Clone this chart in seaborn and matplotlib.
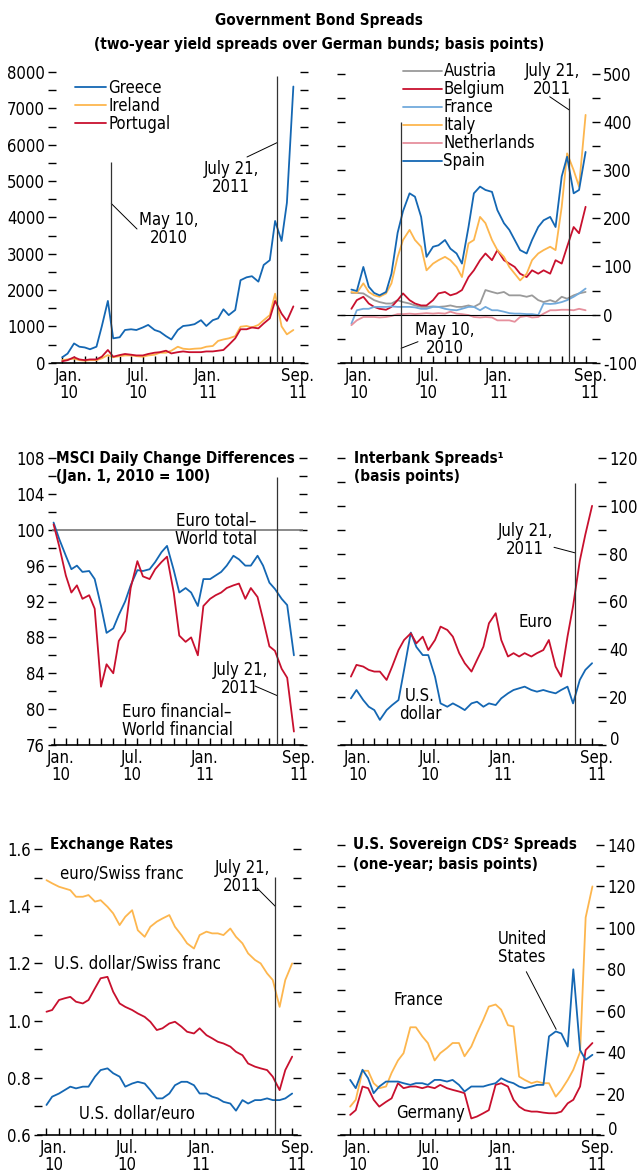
import numpy as np
import pandas as pd
import matplotlib
matplotlib.use("Agg")
import matplotlib.pyplot as plt
import matplotlib.dates as mdates
from matplotlib import font_manager as fm
from matplotlib.transforms import ScaledTranslation
import seaborn as sns
from matplotlib.lines import Line2D

sns.set_theme(style="white")

# pick a condensed face if one is installed, otherwise a plain one at a smaller size
installed = fm.fontManager.ttflist
if any(f.name == "Liberation Sans Narrow" for f in installed):
    plt.rcParams["font.family"] = ["Liberation Sans Narrow", "DejaVu Sans"]
    FS, TFS = 13, 12.5
elif any(f.name == "DejaVu Sans" and "Condensed" in f.fname for f in installed):
    plt.rcParams["font.family"] = ["DejaVu Sans"]
    plt.rcParams["font.stretch"] = "condensed"
    FS, TFS = 12, 11
else:
    plt.rcParams["font.family"] = ["Liberation Sans", "DejaVu Sans"]
    FS, TFS = 11.5, 10.5
plt.rcParams.update({"axes.unicode_minus": False, "text.color": "black",
                     "xtick.color": "black", "ytick.color": "black",
                     "axes.edgecolor": "black"})

# semi-monthly readings, Jan 1 2010 .. Sep 1 2011
dates = pd.date_range("2010-01-01", "2011-09-01", freq="SMS")

# --- Government bond spreads (left) ---
greece = [150, 250, 530, 440, 420, 370, 440, 1000, 1700, 670, 700, 900, 920, 900, 970, 1040, 900, 850, 730, 640,
          900, 1010, 1030, 1060, 1170, 1010, 1170, 1220, 1470, 1310, 1450, 2270, 2350, 2380, 2230, 2690, 2820,
          3900, 3350, 4400, 7600]
ireland = [70, 90, 110, 70, 55, 70, 70, 120, 210, 150, 180, 200, 200, 180, 165, 200, 220, 275, 275, 330,
           440, 385, 370, 385, 395, 440, 460, 600, 640, 670, 730, 990, 1010, 970, 1040, 1170, 1310, 1900, 1000,
           780, 900]
portugal = [40, 70, 150, 90, 70, 90, 90, 165, 350, 165, 210, 240, 220, 200, 200, 240, 275, 290, 330, 255,
            290, 310, 290, 290, 290, 310, 310, 330, 350, 490, 670, 920, 920, 970, 945, 1080, 1220, 1700, 1350,
            1150, 1550]

# --- Government bond spreads (right) ---
austria = [45, 45, 44, 37, 30, 26, 23, 23, 30, 26, 23, 19, 16, 16, 17, 16, 17, 19, 16, 16,
           19, 16, 23, 51, 47, 44, 47, 40, 40, 40, 37, 40, 30, 26, 30, 26, 37, 33, 40, 44, 47]
belgium = [12, 30, 37, 23, 16, 12, 10, 16, 30, 44, 30, 23, 19, 19, 30, 44, 47, 40, 44, 51,
           78, 92, 113, 127, 113, 134, 113, 106, 99, 85, 78, 92, 85, 92, 85, 113, 106, 141, 182, 169, 224]
france_b = [-19, 9, 12, 12, 16, 16, 16, 17, 16, 16, 16, 15, 12, 12, 16, 16, 12, 10, 9, 12,
            16, 16, 9, 16, 9, 9, 6, 3, 2, 2, 1, 1, -1, 23, 22, 23, 26, 30, 37, 44, 54]
italy = [47, 45, 65, 47, 40, 37, 44, 65, 120, 155, 176, 155, 141, 92, 106, 113, 120, 113, 99, 78,
         148, 155, 203, 190, 155, 134, 120, 99, 85, 71, 85, 113, 127, 134, 141, 134, 224, 335, 300, 266, 415]
netherlands = [-22, -12, -5, -5, -5, -6, -5, -3, 1, 1, 2, 1, 2, 3, 2, 3, 2, 6, 2, 1,
               -1, -5, -6, -5, -6, -12, -12, -12, -15, -5, -3, -6, -5, 2, 9, 9, 10, 10, 9, 12, 9]
spain = [52, 49, 99, 58, 45, 40, 47, 85, 170, 215, 252, 245, 203, 120, 141, 144, 155, 137, 127, 106,
         182, 252, 266, 259, 255, 217, 190, 176, 155, 134, 127, 155, 182, 196, 203, 182, 287, 328, 252, 259, 338]

# --- MSCI ---
euro_total = [100.8, 99.0, 97.1, 95.6, 96.0, 95.3, 95.4, 94.5, 91.5, 88.5, 89.0, 90.5, 92.0, 93.8, 95.5,
              95.4, 95.6, 96.4, 97.5, 98.2, 95.5, 93.0, 93.5, 93.0, 91.5, 94.5, 94.5, 94.9, 95.3, 96.0,
              97.1, 96.7, 96.0, 96.0, 97.1, 96.0, 94.1, 93.4, 92.3, 91.6, 86.0]
euro_fin = [100.6, 98.2, 94.9, 93.0, 93.8, 92.3, 92.7, 91.2, 82.5, 85.0, 84.0, 87.6, 88.7, 93.5, 96.5,
            94.8, 94.5, 95.6, 96.4, 97.0, 93.0, 88.2, 87.5, 88.0, 86.0, 91.5, 92.3, 92.7, 93.0, 93.5,
            93.8, 94.0, 92.3, 93.5, 92.5, 90.0, 87.0, 86.5, 84.5, 83.5, 77.5]

# --- Interbank ---
euro_ib = [28.6, 33.5, 32.8, 31.4, 30.7, 30.7, 27.2, 32.8, 39.7, 43.9, 46.7, 42.5, 45.3, 39.7, 43.9,
           49.5, 48.1, 45.3, 38.4, 34.2, 30.7, 35.6, 41.1, 50.9, 55.1, 43.9, 37.0, 38.4, 37.0, 38.4,
           37.0, 38.4, 39.7, 43.9, 32.8, 28.6, 45.3, 58.0, 77.0, 88.0, 100.0]
usd_ib = [19.5, 23.0, 18.8, 16.0, 14.6, 10.5, 14.6, 16.7, 18.8, 31.4, 47.0, 41.0, 37.6, 37.6, 28.6,
          17.4, 16.0, 17.4, 16.0, 14.6, 17.4, 18.1, 16.0, 17.4, 16.7, 19.5, 21.6, 23.0, 23.7, 24.4,
          23.0, 22.3, 23.0, 22.3, 21.6, 23.0, 24.4, 17.4, 27.2, 31.4, 34.2]

# --- Exchange rates ---
eur_chf = [1.491, 1.48, 1.468, 1.462, 1.456, 1.433, 1.433, 1.439, 1.416, 1.421, 1.398, 1.375, 1.334,
           1.363, 1.386, 1.316, 1.293, 1.328, 1.346, 1.357, 1.369, 1.328, 1.299, 1.27, 1.252, 1.299,
           1.311, 1.305, 1.305, 1.299, 1.322, 1.293, 1.27, 1.235, 1.212, 1.2, 1.165, 1.142, 1.048, 1.142, 1.2]
usd_chf = [1.031, 1.037, 1.072, 1.078, 1.083, 1.066, 1.06, 1.072, 1.113, 1.148, 1.153, 1.101, 1.06,
           1.048, 1.037, 1.025, 1.013, 0.996, 0.967, 0.973, 0.99, 0.996, 0.979, 0.961, 0.955, 0.973,
           0.949, 0.938, 0.926, 0.92, 0.909, 0.891, 0.879, 0.85, 0.839, 0.833, 0.827, 0.804, 0.757, 0.827, 0.874]
usd_eur = [0.705, 0.734, 0.745, 0.757, 0.769, 0.763, 0.769, 0.769, 0.804, 0.827, 0.833, 0.816, 0.804,
           0.769, 0.78, 0.786, 0.78, 0.757, 0.728, 0.728, 0.745, 0.774, 0.786, 0.786, 0.774, 0.745,
           0.745, 0.734, 0.728, 0.716, 0.71, 0.685, 0.722, 0.71, 0.722, 0.722, 0.728, 0.722, 0.722, 0.728, 0.745]

# --- CDS ---
france_cds = [13.7, 17, 31, 31, 25, 22.6, 23.4, 30, 36, 39.5, 52, 52, 47.6, 44.4, 36, 39.5, 42, 44.4, 44.4, 38,
              42.7, 49, 55.6, 62, 63, 60.5, 53, 52.4, 28.2, 26.6, 25, 25.8, 25, 25, 18.5, 21.8, 26.6, 31.5,
              40, 105, 120]
us_cds = [26.6, 22.6, 31.5, 27.4, 20.2, 23.4, 25.8, 25.8, 25.8, 25, 24.2, 25, 25, 24.2, 26.6, 26.6, 25.8,
          26.6, 24.2, 21, 23.4, 23.4, 23.4, 24.2, 25, 27.4, 25.8, 25, 23.4, 22.6, 23.4, 24.2, 24.2, 47.6,
          50, 49, 42.7, 80, 41, 36.3, 38.7]
germany_cds = [9.7, 12, 23.4, 22.6, 17, 13.7, 16, 17.7, 25, 22.6, 23.4, 23.4, 22.6, 23.4, 22.6, 24.2, 22.6,
               21.8, 21, 20.2, 8, 8.9, 10.5, 12, 24.2, 25, 23.4, 17, 13.7, 12, 11.3, 11.3, 10.8, 10.5, 10.5,
               11.3, 15.3, 17, 23.4, 41, 44.4]

BLUE, ORANGE, RED = "#1467b3", "#fdb64e", "#c8102e"
GREY, LBLUE, PINK = "#9a9a9a", "#72aadc", "#e6909d"
W, H = 638, 1175
may10 = pd.Timestamp("2010-05-10")
jul21 = pd.Timestamp("2011-07-21")

fig = plt.figure(figsize=(W / 100, H / 100), dpi=100)


def fxy(x, y):
    return (x / W, 1 - y / H)


def box(xl, xr, yt, yb):
    return fig.add_axes([xl / W, 1 - yb / H, (xr - xl) / W, (yb - yt) / H])


def draw(ax, series, names, colors):
    df = pd.DataFrame({"date": np.tile(dates.values, len(names)),
                       "value": np.concatenate([np.asarray(s, float) for s in series]),
                       "series": np.repeat(names, len(dates))})
    sns.lineplot(data=df, x="date", y="value", hue="series", hue_order=names,
                 palette=colors, estimator=None, lw=1.3, ax=ax, legend=False)
    ax.set_xlabel("")
    ax.set_ylabel("")


def style(ax, ylim, major, minor, side, pads, fmt="{:g}"):
    ax.set_xlim(mdates.date2num(dates[0] - pd.Timedelta(days=pads[0])),
                mdates.date2num(dates[-1] + pd.Timedelta(days=pads[1])))
    ax.set_ylim(ylim)
    for s in ["top", "left", "right"]:
        ax.spines[s].set_visible(False)
    ax.spines["bottom"].set_linewidth(1.2)
    months = pd.date_range("2010-01-01", "2011-09-01", freq="MS")
    ax.set_xticks(mdates.date2num(months), minor=True)
    lab_d = pd.to_datetime(["2010-01-19", "2010-07-19", "2011-01-19", "2011-09-13"])
    ax.set_xticks(mdates.date2num(lab_d))
    ax.set_xticklabels(["Jan.\n10", "Jul.\n10", "Jan.\n11", "Sep.\n11"])
    for t in ax.get_xticklabels():
        t.set_linespacing(0.92)
    ax.tick_params(axis="x", which="minor", direction="in", length=5, width=1, bottom=True)
    ax.tick_params(axis="x", which="major", length=0, pad=3, labelsize=FS, bottom=True)
    ax.set_yticks(major)
    ax.set_yticks(minor, minor=True)
    ax.set_yticklabels([fmt.format(v) for v in major])
    ax.tick_params(axis="y", which="both", direction="inout", length=6, width=1,
                   left=True, right=True, labelleft=(side == "left"),
                   labelright=(side == "right"), labelsize=FS, pad=2)
    if side == "right" and ylim[0] == 0:
        # lift the bottom "0" a little so it clears the "Sep." label
        for t in ax.yaxis.get_majorticklabels()[:1]:
            t.set_transform(t.get_transform() + ScaledTranslation(1 / 72, 5 / 72, fig.dpi_scale_trans))
    ax.grid(False)


def vline(ax, d, y0, y1):
    ax.vlines(mdates.date2num(d), y0, y1, colors="#333333", lw=0.9, zorder=5)


def leader(ax, d, yval, px, py):
    ax.annotate("", xy=(mdates.date2num(d), yval), xycoords="data",
                xytext=fxy(px, py), textcoords="figure fraction",
                arrowprops=dict(arrowstyle="-", color="black", lw=0.7, shrinkA=0, shrinkB=0))


def label(x, y, s, ha="center", bold=False):
    fig.text(*fxy(x, y), s, ha=ha, va="center", fontsize=TFS if bold else FS,
             linespacing=1.0, fontweight="bold" if bold else "normal")


def key(ax, names, colors, anchor, hl):
    ax.legend([Line2D([], [], color=c, lw=1.3) for c in colors], names, loc="upper left",
              bbox_to_anchor=anchor, frameon=False, fontsize=FS, handlelength=hl,
              handletextpad=0.1, labelspacing=0.0, borderpad=0, borderaxespad=0)


# ---------- Panel A ----------
axA = box(52, 304, 72, 362.7)
draw(axA, [greece, ireland, portugal], ["Greece", "Ireland", "Portugal"], [BLUE, ORANGE, RED])
style(axA, (0, 8000), np.arange(0, 8001, 1000), np.arange(500, 8000, 1000), "left", (27, 28))
vline(axA, may10, 0, 5510)
vline(axA, jul21, 0, 7880)
leader(axA, may10, 4380, 137, 229)
leader(axA, jul21, 6060, 247, 157)
key(axA, ["Greece", "Ireland", "Portugal"], [BLUE, ORANGE, RED], (0.09, 0.975), 1.9)
label(169, 229, "May 10,\n2010")
label(231, 178, "July 21,\n2011")

# ---------- Panel B ----------
axB = box(341, 596, 74, 362.7)
names_b = ["Austria", "Belgium", "France", "Italy", "Netherlands", "Spain"]
cols_b = [GREY, RED, LBLUE, ORANGE, PINK, BLUE]
draw(axB, [austria, belgium, france_b, italy, netherlands, spain], names_b, cols_b)
style(axB, (-100, 500), np.arange(-100, 501, 100), np.arange(-50, 500, 100), "right", (27, 27))
axB.axhline(0, color="black", lw=0.8, zorder=4)
vline(axB, may10, -100, 400)
vline(axB, jul21, -100, 450)
leader(axB, jul21, 425, 549.7, 96.7)
leader(axB, may10, -70, 418, 341.7)
key(axB, names_b, cols_b, (0.245, 1.04), 2.3)
label(552, 80, "July 21,\n2011")
label(445, 339, "May 10,\n2010")

label(319, 20, "Government Bond Spreads", bold=True)
label(319, 44, "(two-year yield spreads over German bunds; basis points)", bold=True)

# ---------- Panel C ----------
axC = box(52, 303, 458, 745)
draw(axC, [euro_total, euro_fin], ["Euro total", "Euro financial"], [BLUE, RED])
style(axC, (76, 108), np.arange(76, 109, 4), np.arange(78, 108, 4), "left", (4, 23))
axC.axhline(100, color="#777777", lw=1.2, zorder=1)
vline(axC, jul21, 76, 105.9)
leader(axC, jul21, 81.5, 255, 686)
label(56, 458, "MSCI Daily Change Differences", ha="left", bold=True)
label(56, 477, "(Jan. 1, 2010 = 100)", ha="left", bold=True)
label(216, 530, "Euro total\u2013\nWorld total")
label(240, 679, "July 21,\n2011")
label(177, 721, "Euro financial\u2013\nWorld financial")

# ---------- Panel D ----------
axD = box(341, 602, 458, 745)
draw(axD, [usd_ib, euro_ib], ["U.S. dollar", "Euro"], [BLUE, RED])
style(axD, (0, 120), np.arange(0, 121, 20), np.arange(10, 120, 20), "right", (25, 25))
vline(axD, jul21, 0, 109.7)
leader(axD, jul21, 80.3, 554, 547.3)
label(354, 458, "Interbank Spreads\u00b9", ha="left", bold=True)
label(354, 477, "(basis points)", ha="left", bold=True)
label(525, 540, "July 21,\n2011")
label(536, 622, "Euro")
label(420, 705, "U.S.\ndollar")

# ---------- Panel E ----------
axE = box(38, 297, 849, 1135)
draw(axE, [eur_chf, usd_chf, usd_eur], ["euro/Swiss franc", "U.S. dollar/Swiss franc", "U.S. dollar/euro"],
     [ORANGE, RED, BLUE])
style(axE, (0.6, 1.6), np.round(np.arange(0.6, 1.61, 0.2), 1), np.round(np.arange(0.7, 1.6, 0.2), 1),
      "left", (21, 11), fmt="{:.1f}")
vline(axE, jul21, 0.6, 1.502)
leader(axE, jul21, 1.40, 257, 888)
label(50, 845, "Exchange Rates", ha="left", bold=True)
label(242, 877, "July 21,\n2011")
label(122, 873, "euro/Swiss franc")
label(137, 964, "U.S. dollar/Swiss franc")
label(137, 1114, "U.S. dollar/euro")

# ---------- Panel F ----------
axF = box(341, 600, 845, 1135)
draw(axF, [france_cds, germany_cds, us_cds], ["France", "Germany", "United States"], [ORANGE, RED, BLUE])
style(axF, (0, 140), np.arange(0, 141, 20), np.arange(10, 140, 20), "right", (23, 19))
leader(axF, pd.Timestamp("2011-06-02"), 51, 526.3, 971.7)
label(353, 845, "U.S. Sovereign CDS\u00b2 Spreads", ha="left", bold=True)
label(353, 865, "(one-year; basis points)", ha="left", bold=True)
label(418, 1000, "France")
label(522, 948, "United\nStates")
label(431, 1113, "Germany")

fig.savefig("out.png", dpi=100)
